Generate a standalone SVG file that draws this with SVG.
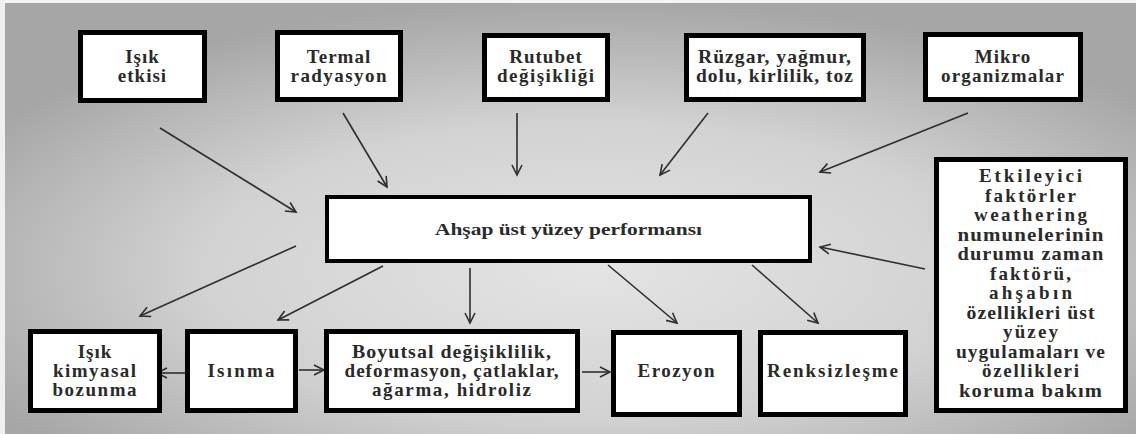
<svg xmlns="http://www.w3.org/2000/svg" width="1136" height="434" viewBox="0 0 1136 434">
<defs>
<radialGradient id="bg" cx="52%" cy="62%" r="62%">
<stop offset="0" stop-color="#e4e4e4"/>
<stop offset="0.55" stop-color="#d2d2d2"/>
<stop offset="1" stop-color="#a6a6a6"/>
</radialGradient>
<marker id="ah" markerUnits="userSpaceOnUse" markerWidth="14" markerHeight="14" refX="10" refY="5" orient="auto" overflow="visible">
<path d="M0,0 L10,5 L0,10" fill="none" stroke="#2e2e2e" stroke-width="1.6"/>
</marker>
<style>
.box{fill:#ffffff;stroke:#000000;stroke-width:5}
.cbox{fill:#ffffff;stroke:#000000;stroke-width:4}
.t{font-family:"Liberation Serif","Times New Roman",serif;font-weight:bold;font-size:19px;letter-spacing:1px;fill:#2a2a2a;text-anchor:middle}
.tc{font-family:"Liberation Serif","Times New Roman",serif;font-weight:bold;font-size:16px;fill:#2a2a2a;text-anchor:middle}
.c{stroke:#2e2e2e;stroke-width:1.6;fill:none;marker-end:url(#ah)}
</style>
</defs>
<rect x="0" y="0" width="1136" height="434" fill="url(#bg)"/>
<rect x="0" y="0" width="1136" height="3" fill="#f4f4f4"/>
<rect x="0" y="0" width="5" height="434" fill="#f0f0f0"/>

<g id="connectors">
<line class="c" x1="160" y1="128" x2="296" y2="212"/>
<line class="c" x1="343" y1="113" x2="387" y2="187"/>
<line class="c" x1="517" y1="113" x2="517" y2="175"/>
<line class="c" x1="708" y1="113" x2="660" y2="175"/>
<line class="c" x1="968" y1="113" x2="820" y2="172"/>
<line class="c" x1="925" y1="269" x2="820" y2="247"/>
<line class="c" x1="296" y1="246" x2="140" y2="316"/>
<line class="c" x1="383" y1="266" x2="278" y2="320"/>
<line class="c" x1="470" y1="268" x2="470" y2="323"/>
<line class="c" x1="608" y1="265" x2="677" y2="323"/>
<line class="c" x1="752" y1="265" x2="818" y2="323"/>
<line class="c" x1="185" y1="373" x2="157" y2="373"/>
<line class="c" x1="299" y1="370" x2="324" y2="370"/>
<line class="c" x1="582" y1="372" x2="610" y2="372"/>
</g>

<g id="n-isik-etkisi">
<rect class="box" x="80.5" y="32.5" width="124" height="68"/>
<text class="t" x="142.5" y="63">Işık</text>
<text class="t" x="142.5" y="82">etkisi</text>
</g>
<g id="n-termal">
<rect class="box" x="277.5" y="32.5" width="123" height="67"/>
<text class="t" x="339" y="63">Termal</text>
<text class="t" x="339" y="82" textLength="97">radyasyon</text>
</g>
<g id="n-rutubet">
<rect class="box" x="484.5" y="35.5" width="123" height="64"/>
<text class="t" x="546" y="63">Rutubet</text>
<text class="t" x="546" y="82" textLength="98">değişikliği</text>
</g>
<g id="n-ruzgar">
<rect class="box" x="686.5" y="35.5" width="177" height="64"/>
<text class="t" x="775" y="63" textLength="154" lengthAdjust="spacingAndGlyphs">Rüzgar, yağmur,</text>
<text class="t" x="775" y="82" textLength="158" lengthAdjust="spacingAndGlyphs">dolu, kirlilik, toz</text>
</g>
<g id="n-mikro">
<rect class="box" x="925.5" y="34.5" width="155" height="65"/>
<text class="t" x="1003" y="63">Mikro</text>
<text class="t" x="1003" y="82" textLength="124">organizmalar</text>
</g>

<g id="n-center">
<rect class="cbox" x="327" y="197" width="483" height="64"/>
<text class="tc" x="568.5" y="235" textLength="267" lengthAdjust="spacingAndGlyphs">Ahşap üst yüzey performansı</text>
</g>

<g id="n-etkileyici">
<rect class="box" x="936.5" y="159.5" width="189" height="251"/>
<text class="t" x="1031" y="182" textLength="104">Etkileyici</text>
<text class="t" x="1031" y="201.5" textLength="92">faktörler</text>
<text class="t" x="1031" y="221" textLength="114">weathering</text>
<text class="t" x="1031" y="240.5" textLength="147" lengthAdjust="spacingAndGlyphs">numunelerinin</text>
<text class="t" x="1031" y="260" textLength="147" lengthAdjust="spacingAndGlyphs">durumu zaman</text>
<text class="t" x="1031" y="279.5" textLength="82">faktörü,</text>
<text class="t" x="1031" y="299" textLength="84">ahşabın</text>
<text class="t" x="1031" y="318.5" textLength="129" lengthAdjust="spacingAndGlyphs">özellikleri üst</text>
<text class="t" x="1031" y="338" textLength="56">yüzey</text>
<text class="t" x="1031" y="357.5" textLength="150" lengthAdjust="spacingAndGlyphs">uygulamaları ve</text>
<text class="t" x="1031" y="377" textLength="98">özellikleri</text>
<text class="t" x="1031" y="396.5" textLength="144" lengthAdjust="spacingAndGlyphs">koruma bakım</text>
</g>

<g id="n-isik-kimyasal">
<rect class="box" x="30.5" y="331.5" width="129" height="79"/>
<text class="t" x="95" y="358">Işık</text>
<text class="t" x="95" y="377" textLength="84">kimyasal</text>
<text class="t" x="95" y="396" textLength="85">bozunma</text>
</g>
<g id="n-isinma">
<rect class="box" x="187.5" y="331.5" width="108" height="79"/>
<text class="t" x="241.5" y="377" textLength="68">Isınma</text>
</g>
<g id="n-boyutsal">
<rect class="box" x="326.5" y="331.5" width="251" height="79"/>
<text class="t" x="452" y="358" textLength="200" lengthAdjust="spacingAndGlyphs">Boyutsal değişiklilik,</text>
<text class="t" x="452" y="377" textLength="215" lengthAdjust="spacingAndGlyphs">deformasyon, çatlaklar,</text>
<text class="t" x="452" y="396" textLength="160">ağarma, hidroliz</text>
</g>
<g id="n-erozyon">
<rect class="box" x="613.5" y="332.5" width="126" height="82"/>
<text class="t" x="676.5" y="377" textLength="78">Erozyon</text>
</g>
<g id="n-renksizlesme">
<rect class="box" x="760.5" y="332.5" width="145" height="82"/>
<text class="t" x="833" y="377" textLength="132">Renksizleşme</text>
</g>
</svg>
